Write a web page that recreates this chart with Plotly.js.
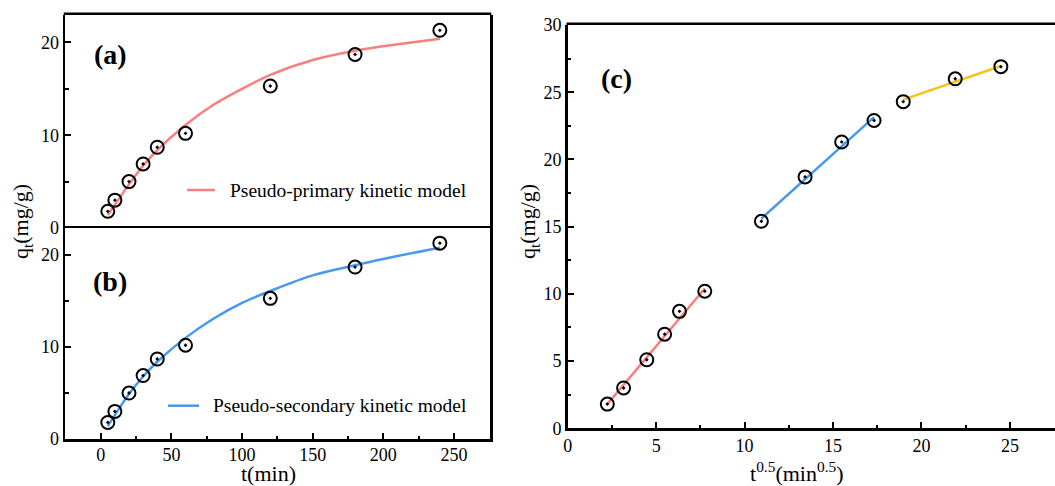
<!DOCTYPE html>
<html>
<head>
<meta charset="utf-8">
<script src="https://cdn.plot.ly/plotly-3.0.1.min.js"></script>
<style>html,body{margin:0;padding:0;background:#fff;}#chart{width:1055px;height:486px;}</style>
</head>
<body>
<div id="chart"></div>
<script>
// ---- data ----
const tMin = [5, 10, 20, 30, 40, 60, 120, 180, 240];
const qt = [1.8, 3.0, 5.0, 6.9, 8.7, 10.2, 15.3, 18.7, 21.3];

const tCurve = [5, 10, 20, 30, 40, 60, 80, 100, 120, 150, 180, 210, 240];
const qPFO = [1.4, 2.5, 4.7, 6.7, 8.4, 11.1, 13.3, 15.0, 16.5, 18.1, 19.1, 19.8, 20.4];
const qPSO = [1.4, 2.6, 4.9, 6.8, 8.4, 11.0, 13.1, 14.8, 16.1, 17.8, 18.9, 19.9, 20.8];

const sqrtT = [2.24, 3.16, 4.47, 5.48, 6.32, 7.75, 10.95, 13.42, 15.49, 17.32, 18.97, 21.91, 24.49];
const qtC = [1.8, 3.0, 5.1, 7.0, 8.7, 10.2, 15.4, 18.7, 21.3, 22.9, 24.3, 26.0, 26.9];

const fit1X = [2.24, 7.75], fit1Y = [1.8, 10.4];
const fit2X = [10.95, 17.32], fit2Y = [15.6, 23.15];
const fit3X = [18.97, 24.49], fit3Y = [24.45, 26.95];

const legendA = "Pseudo-primary kinetic model";
const legendB = "Pseudo-secondary kinetic model";

// ---- styles ----
const RED = "#f97f7f", BLUE = "#4a98ec", GOLD = "#f7c21a";
const FONT = "Liberation Serif";
const W = 1055, H = 486;
const px = v => v / W, py = v => 1 - v / H;

const marker = {symbol: "circle-open-dot", size: 13, color: "#000", line: {width: 2, color: "#000"}};

const traces = [
  {x: tCurve, y: qPFO, xaxis: "x", yaxis: "y", mode: "lines", line: {color: RED, width: 2.5, shape: "spline"}, name: legendA},
  {x: tMin, y: qt, xaxis: "x", yaxis: "y", mode: "markers", marker: marker},
  {x: tCurve, y: qPSO, xaxis: "x2", yaxis: "y2", mode: "lines", line: {color: BLUE, width: 2.5, shape: "spline"}, name: legendB},
  {x: tMin, y: qt, xaxis: "x2", yaxis: "y2", mode: "markers", marker: marker},
  {x: fit1X, y: fit1Y, xaxis: "x3", yaxis: "y3", mode: "lines", line: {color: RED, width: 2.5}},
  {x: fit2X, y: fit2Y, xaxis: "x3", yaxis: "y3", mode: "lines", line: {color: BLUE, width: 2.5}},
  {x: fit3X, y: fit3Y, xaxis: "x3", yaxis: "y3", mode: "lines", line: {color: GOLD, width: 2.5}},
  {x: sqrtT, y: qtC, xaxis: "x3", yaxis: "y3", mode: "markers", marker: marker}
];

const tickFont = {family: FONT, size: 18, color: "#000"};
const minorT = {ticks: "inside", ticklen: 3.5, tickwidth: 2, tickcolor: "#000"};
const baseAxis = {
  showgrid: false, zeroline: false, showline: true, linecolor: "#000", linewidth: 2.5,
  ticks: "inside", ticklen: 6, tickwidth: 2, tickcolor: "#000", tickfont: tickFont, automargin: false
};

const layout = {
  width: W, height: H, showlegend: false,
  margin: {l: 0, r: 0, t: 0, b: 0},
  paper_bgcolor: "#fff", plot_bgcolor: "#fff",
  font: {family: FONT, color: "#000"},
  xaxis: Object.assign({}, baseAxis, {domain: [px(65), px(490)], range: [-25.3, 275.5], anchor: "y", showline: false, ticks: "", showticklabels: false}),
  yaxis: Object.assign({}, baseAxis, {domain: [py(228), py(15)], range: [0, 22.95], anchor: "x", mirror: true, dtick: 10, minor: Object.assign({dtick: 5}, minorT)}),
  xaxis2: Object.assign({}, baseAxis, {domain: [px(65), px(490)], range: [-25.3, 275.5], anchor: "y2", mirror: true, dtick: 50, ticklabelstandoff: -2, minor: Object.assign({dtick: 25}, minorT)}),
  yaxis2: Object.assign({}, baseAxis, {domain: [py(439), py(228)], range: [0, 22.95], anchor: "x2", mirror: true, dtick: 10, minor: Object.assign({dtick: 5}, minorT)}),
  xaxis3: Object.assign({}, baseAxis, {domain: [px(567.7), 1], range: [0, 27.55], anchor: "y3", dtick: 5, minor: Object.assign({dtick: 2.5}, minorT)}),
  yaxis3: Object.assign({}, baseAxis, {domain: [py(428.3), py(25)], range: [0, 30], anchor: "x3", dtick: 5, minor: Object.assign({dtick: 2.5}, minorT)}),
  shapes: [
    {type: "line", xref: "paper", yref: "paper", x0: px(63.75), x1: px(491.25), y0: py(13.75), y1: py(13.75), line: {color: "#000", width: 2.5}},
    {type: "line", xref: "paper", yref: "paper", x0: px(566.5), x1: 1, y0: py(23.75), y1: py(23.75), line: {color: "#000", width: 2.5}},
    {type: "line", xref: "paper", yref: "paper", x0: px(187), x1: px(215), y0: py(190), y1: py(190), line: {color: RED, width: 2.5}},
    {type: "line", xref: "paper", yref: "paper", x0: px(168), x1: px(199), y0: py(405.7), y1: py(405.7), line: {color: BLUE, width: 2.5}}
  ],
  annotations: [
    {text: legendA, xref: "paper", yref: "paper", x: px(228), y: py(190), xanchor: "left", yanchor: "middle", showarrow: false, font: {family: FONT, size: 19.5, color: "#000"}},
    {text: legendB, xref: "paper", yref: "paper", x: px(210.5), y: py(405.7), xanchor: "left", yanchor: "middle", showarrow: false, font: {family: FONT, size: 19.5, color: "#000"}},
    {text: "<b>(a)</b>", xref: "paper", yref: "paper", x: px(110), y: py(54), xanchor: "center", yanchor: "middle", showarrow: false, font: {family: FONT, size: 28, color: "#000"}},
    {text: "<b>(b)</b>", xref: "paper", yref: "paper", x: px(110), y: py(281), xanchor: "center", yanchor: "middle", showarrow: false, font: {family: FONT, size: 28, color: "#000"}},
    {text: "<b>(c)</b>", xref: "paper", yref: "paper", x: px(616), y: py(78), xanchor: "center", yanchor: "middle", showarrow: false, font: {family: FONT, size: 28, color: "#000"}},
    {text: "q<sub>t</sub>(mg/g)", xref: "paper", yref: "paper", x: px(22), y: py(222), xanchor: "center", yanchor: "middle", textangle: -90, showarrow: false, font: {family: FONT, size: 22, color: "#000"}},
    {text: "q<sub>t</sub>(mg/g)", xref: "paper", yref: "paper", x: px(529), y: py(222), xanchor: "center", yanchor: "middle", textangle: -90, showarrow: false, font: {family: FONT, size: 22, color: "#000"}},
    {text: "t(min)", xref: "paper", yref: "paper", x: px(268), y: py(473), xanchor: "center", yanchor: "middle", showarrow: false, font: {family: FONT, size: 22, color: "#000"}},
    {text: "t<sup>0.5</sup>(min<sup>0.5</sup>)", xref: "paper", yref: "paper", x: px(797), y: py(472), xanchor: "center", yanchor: "middle", showarrow: false, font: {family: FONT, size: 22, color: "#000"}}
  ]
};

Plotly.newPlot("chart", traces, layout, {staticPlot: true, displayModeBar: false});
</script>
</body>
</html>
